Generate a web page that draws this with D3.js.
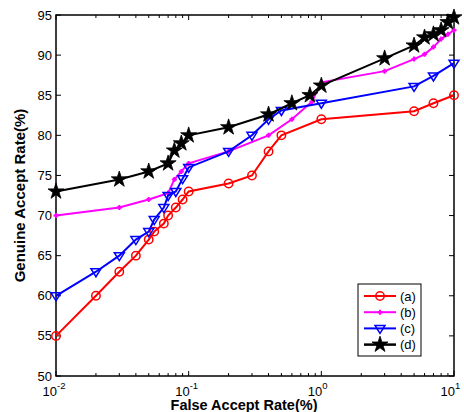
<!DOCTYPE html>
<meta charset="utf-8">
<style>
	body { margin: 0; background: #fff; font-family: "Liberation Sans", Arial, sans-serif; }
	text { fill: #000; }
</style>
<body>
<svg id="chart" width="464" height="412"></svg>
<script src="https://d3js.org/d3.v7.min.js"></script>
<script>
	// data
	var xA = [0.01, 0.02, 0.03, 0.04, 0.05, 0.055, 0.065, 0.07, 0.08, 0.09, 0.1, 0.2, 0.3, 0.4, 0.5, 1, 5, 7, 10];
	var yA = [55, 60, 63, 65, 67, 68, 69, 70, 71, 72, 73, 74, 75, 78, 80, 82, 83, 84, 85];

	var xB = [0.01, 0.03, 0.05, 0.07, 0.078, 0.088, 0.1, 0.2, 0.4, 0.6, 0.85, 1, 3, 5, 6, 7, 8, 9, 10];
	var yB = [70, 71, 72, 72.8, 74.5, 75.5, 76.5, 78, 80, 82, 84.2, 86.6, 88, 89.5, 90.1, 91, 92, 92.6, 93.1];

	var xC = [0.01, 0.02, 0.03, 0.04, 0.05, 0.055, 0.065, 0.07, 0.08, 0.09, 0.1, 0.2, 0.3, 0.4, 0.5, 1, 5, 7, 10];
	var yC = [60, 63, 65, 67, 68, 69.5, 71, 72.5, 73, 74.6, 76, 78, 80, 82, 83.1, 84, 86.1, 87.4, 89];

	var xD = [0.01, 0.03, 0.05, 0.07, 0.078, 0.088, 0.1, 0.2, 0.4, 0.6, 0.82, 1, 3, 5, 6, 7, 8, 9, 10];
	var yD = [73, 74.5, 75.5, 76.5, 78.1, 79, 80, 81, 82.6, 84, 85, 86.2, 89.6, 91.2, 92.2, 92.6, 93.1, 94.1, 94.7];

	var names = ["(a)", "(b)", "(c)", "(d)"];
	var colors = ["#ff0000", "#ff00ff", "#0000ff", "#000000"];
	var yTicks = [50, 55, 60, 65, 70, 75, 80, 85, 90, 95];
	var xTicks = [0.01, 0.1, 1, 10];
	var xTickExp = ["-2", "-1", "0", "1"];

	var svg = d3.select("#chart"),
	margin = {top: 15, right: 10, bottom: 36, left: 56},
	width = +svg.attr("width") - margin.left - margin.right,
	height = +svg.attr("height") - margin.top - margin.bottom;

	var x = d3.scaleLog().domain([0.01, 10]).range([0, width]);
	var y = d3.scaleLinear().domain([50, 95]).range([height, 0]);

	var g = svg.append("g")
	.attr("transform", "translate(" + margin.left + "," + margin.top + ")");

	// ticks (inward, on all four sides)
	var minor = [];
	[0.01, 0.1, 1].forEach(function(b) {
		for (var k = 2; k <= 9; k++) minor.push(b * k);
	});
	var tl = 5, tm = 3;
	xTicks.concat(minor).forEach(function(v) {
		var len = xTicks.indexOf(v) >= 0 ? tl : tm;
		g.append("line").attr("x1", x(v)).attr("x2", x(v)).attr("y1", height).attr("y2", height - len)
		.attr("stroke", "#000").attr("stroke-width", 1);
		g.append("line").attr("x1", x(v)).attr("x2", x(v)).attr("y1", 0).attr("y2", len)
		.attr("stroke", "#000").attr("stroke-width", 1);
	});
	yTicks.forEach(function(v) {
		g.append("line").attr("x1", 0).attr("x2", tl).attr("y1", y(v)).attr("y2", y(v))
		.attr("stroke", "#000");
		g.append("line").attr("x1", width).attr("x2", width - tl).attr("y1", y(v)).attr("y2", y(v))
		.attr("stroke", "#000");
		g.append("text").attr("x", -4).attr("y", y(v)).attr("dy", "0.35em")
		.attr("text-anchor", "end").attr("font-size", 13).text(v);
	});

	xTicks.forEach(function(v, i) {
		g.append("text").attr("x", x(v) + 1).attr("y", height + 20)
		.attr("text-anchor", "end").attr("font-size", 13).text("10");
		g.append("text").attr("x", x(v) + 1).attr("y", height + 13)
		.attr("font-size", 9.5).text(xTickExp[i]);
	});

	g.append("rect").attr("width", width).attr("height", height)
	.attr("fill", "none").attr("stroke", "#000").attr("stroke-width", 1.5);

	// axis titles
	g.append("text").attr("x", width / 2 - 11).attr("y", height + 34)
	.attr("text-anchor", "middle").attr("font-size", 14.5).attr("font-weight", "bold")
	.text("False Accept Rate(%)");
	g.append("text").attr("transform", "translate(" + (-31) + "," + (height / 2) + ") rotate(-90)")
	.attr("text-anchor", "middle").attr("font-size", 15).attr("font-weight", "bold")
	.text("Genuine Accept Rate(%)");

	var series = [
		{xs: xA, ys: yA},
		{xs: xB, ys: yB},
		{xs: xC, ys: yC},
		{xs: xD, ys: yD}
	];

	var line = d3.line().x(function(d) { return x(d[0]); }).y(function(d) { return y(d[1]); });

	function marker(sel, i, cx, cy) {
		var c = colors[i];
		if (i == 0) {
			sel.append("circle").attr("cx", cx).attr("cy", cy).attr("r", 4.2)
			.attr("fill", "none").attr("stroke", c).attr("stroke-width", 1.5);
		} else if (i == 1) {
			sel.append("path").attr("d", "M" + (cx - 2.5) + "," + cy + "h5M" + cx + "," + (cy - 2.5) + "v5")
			.attr("stroke", c).attr("stroke-width", 2);
			sel.append("circle").attr("cx", cx).attr("cy", cy).attr("r", 1.8).attr("fill", c);
		} else if (i == 2) {
			var s = 5;
			sel.append("path").attr("d", "M" + (cx - s) + "," + (cy - s * 0.6) + "L" + (cx + s) + "," + (cy - s * 0.6) + "L" + cx + "," + (cy + s) + "Z")
			.attr("fill", "none").attr("stroke", c).attr("stroke-width", 1.5);
		} else {
			sel.append("path").attr("d", d3.symbol().type(d3.symbolStar).size(80)())
			.attr("transform", "translate(" + cx + "," + cy + ")")
			.attr("fill", c).attr("stroke", c).attr("stroke-width", 0.8);
		}
	}

	series.forEach(function(s, i) {
		var pts = s.xs.map(function(v, j) { return [v, s.ys[j]]; });
		var gs = g.append("g");
		gs.append("path").datum(pts).attr("d", line)
		.attr("fill", "none").attr("stroke", colors[i]).attr("stroke-width", 2);
		pts.forEach(function(p) { marker(gs, i, x(p[0]), y(p[1])); });
	});

	// legend
	var lg = svg.append("g").attr("transform", "translate(358,284)");
	lg.append("rect").attr("width", 63).attr("height", 72)
	.attr("fill", "#fff").attr("stroke", "#000").attr("stroke-width", 1);
	names.forEach(function(n, i) {
		var ly = 12 + i * 16.2;
		lg.append("line").attr("x1", 6).attr("x2", 38).attr("y1", ly).attr("y2", ly)
		.attr("stroke", colors[i]).attr("stroke-width", i == 3 ? 2.5 : 2);
		marker(lg, i, 22, ly);
		lg.append("text").attr("x", 42).attr("y", ly).attr("dy", "0.35em")
		.attr("font-size", 13).text(n);
	});
</script>
</body>
